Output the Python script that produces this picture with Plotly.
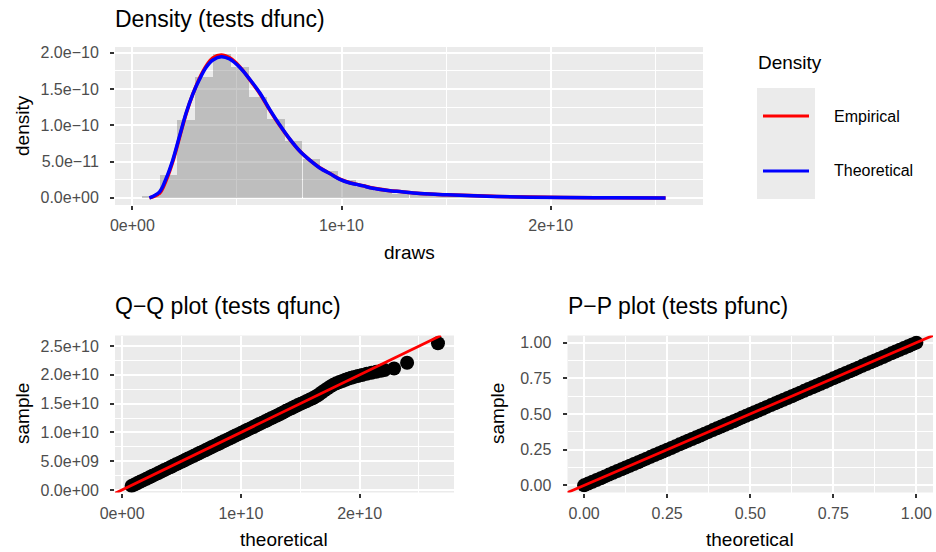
import plotly.graph_objects as go

W, H = 936, 552

# ---------------- data ----------------
# histogram (density scale), bin centres in units of 1e10
hist_centers_e10 = [0.088, 0.173, 0.258, 0.344, 0.429, 0.514, 0.600, 0.685, 0.770, 0.856,
                    0.941, 1.026, 1.112, 1.197, 1.282, 1.368, 1.453, 1.538, 1.624, 1.709,
                    1.794, 1.880, 1.965, 2.050, 2.136, 2.221, 2.306, 2.392, 2.477, 2.562]
hist_width_e10 = 0.0853
hist_density_e10m = [0.022, 0.31, 1.08, 1.66, 1.98, 1.81, 1.39, 1.09, 0.785, 0.53,
                     0.367, 0.24, 0.145, 0.09, 0.06, 0.04, 0.03, 0.02, 0.015, 0.01,
                     0.008, 0.005, 0.004, 0.003, 0.002, 0.002, 0.001, 0.001, 0.0, 0.001]

# density curves (x in 1e10, y in 1e-10)
curve_x_e10 = [0.0815, 0.129, 0.161, 0.193, 0.225, 0.257, 0.289, 0.321, 0.353, 0.385,
               0.425, 0.465, 0.513, 0.561, 0.609, 0.657, 0.704, 0.752, 0.800, 0.848,
               0.896, 0.944, 0.992, 1.040, 1.104, 1.136, 1.231, 1.264, 1.375, 1.503,
               1.743, 2.060, 2.300, 2.549]
theoretical_y_e10m = [0.0, 0.079, 0.265, 0.52, 0.846, 1.17, 1.43, 1.635, 1.80, 1.90,
                      1.946, 1.914, 1.80, 1.635, 1.45, 1.217, 1.008, 0.813, 0.646, 0.52,
                      0.413, 0.335, 0.255, 0.205, 0.165, 0.14, 0.098, 0.09, 0.06, 0.042,
                      0.019, 0.005, 0.002, 0.0]
empirical_y_e10m = [0.0, 0.06, 0.24, 0.50, 0.83, 1.16, 1.43, 1.65, 1.82, 1.93,
                    1.97, 1.93, 1.81, 1.63, 1.44, 1.21, 1.00, 0.81, 0.646, 0.52,
                    0.415, 0.337, 0.258, 0.208, 0.168, 0.143, 0.10, 0.092, 0.062, 0.043,
                    0.02, 0.006, 0.002, 0.0]

# Q-Q plot (units of 1e10)
qq_theoretical_e10 = [0.080, 0.105, 0.130, 0.155, 0.180, 0.205, 0.230, 0.255, 0.280, 0.305,
                      0.330, 0.355, 0.380, 0.405, 0.430, 0.455, 0.480, 0.505, 0.530, 0.555,
                      0.580, 0.605, 0.630, 0.655, 0.680, 0.705, 0.730, 0.755, 0.780, 0.805,
                      0.830, 0.855, 0.880, 0.905, 0.930, 0.955, 0.980, 1.005, 1.030, 1.055,
                      1.080, 1.105, 1.130, 1.155, 1.180, 1.205, 1.230, 1.255, 1.280, 1.305,
                      1.330, 1.355, 1.380, 1.405, 1.430, 1.455, 1.480, 1.505, 1.530, 1.555,
                      1.580, 1.605, 1.630, 1.655, 1.680, 1.705, 1.730, 1.755, 1.780, 1.805,
                      1.830, 1.855, 1.880, 1.905, 1.930, 1.955,
                      1.985, 2.020, 2.060, 2.100, 2.140, 2.180, 2.210, 2.290, 2.400, 2.660]
qq_sample_e10 = [0.070, 0.095, 0.120, 0.145, 0.170, 0.195, 0.220, 0.245, 0.270, 0.295,
                 0.320, 0.345, 0.370, 0.395, 0.420, 0.445, 0.470, 0.495, 0.520, 0.545,
                 0.570, 0.595, 0.620, 0.645, 0.670, 0.695, 0.720, 0.745, 0.770, 0.795,
                 0.820, 0.845, 0.870, 0.895, 0.920, 0.945, 0.970, 0.995, 1.020, 1.045,
                 1.070, 1.095, 1.120, 1.145, 1.170, 1.195, 1.220, 1.245, 1.270, 1.295,
                 1.320, 1.347, 1.375, 1.400, 1.425, 1.450, 1.475, 1.500, 1.522, 1.545,
                 1.570, 1.595, 1.625, 1.655, 1.695, 1.730, 1.765, 1.800, 1.830, 1.855,
                 1.875, 1.895, 1.915, 1.935, 1.950, 1.965,
                 1.980, 1.997, 2.020, 2.038, 2.054, 2.070, 2.083, 2.110, 2.210, 2.550]

# P-P plot
pp_theoretical = [0.0000, 0.0125, 0.0250, 0.0375, 0.0500, 0.0625, 0.0750, 0.0875, 0.1000, 0.1125,
                  0.1250, 0.1375, 0.1500, 0.1625, 0.1750, 0.1875, 0.2000, 0.2125, 0.2250, 0.2375,
                  0.2500, 0.2625, 0.2750, 0.2875, 0.3000, 0.3125, 0.3250, 0.3375, 0.3500, 0.3625,
                  0.3750, 0.3875, 0.4000, 0.4125, 0.4250, 0.4375, 0.4500, 0.4625, 0.4750, 0.4875,
                  0.5000, 0.5125, 0.5250, 0.5375, 0.5500, 0.5625, 0.5750, 0.5875, 0.6000, 0.6125,
                  0.6250, 0.6375, 0.6500, 0.6625, 0.6750, 0.6875, 0.7000, 0.7125, 0.7250, 0.7375,
                  0.7500, 0.7625, 0.7750, 0.7875, 0.8000, 0.8125, 0.8250, 0.8375, 0.8500, 0.8625,
                  0.8750, 0.8875, 0.9000, 0.9125, 0.9250, 0.9375, 0.9500, 0.9625, 0.9750, 0.9875,
                  1.0000]
pp_sample = [0.0000, 0.0127, 0.0253, 0.0378, 0.0503, 0.0628, 0.0753, 0.0878, 0.1002, 0.1127,
             0.1251, 0.1376, 0.1500, 0.1624, 0.1749, 0.1873, 0.1998, 0.2123, 0.2248, 0.2373,
             0.2498, 0.2622, 0.2747, 0.2872, 0.2997, 0.3122, 0.3247, 0.3372, 0.3497, 0.3622,
             0.3747, 0.3872, 0.3997, 0.4122, 0.4247, 0.4372, 0.4497, 0.4622, 0.4747, 0.4872,
             0.4997, 0.5122, 0.5247, 0.5372, 0.5497, 0.5622, 0.5747, 0.5872, 0.5997, 0.6122,
             0.6247, 0.6372, 0.6497, 0.6622, 0.6747, 0.6872, 0.6997, 0.7122, 0.7247, 0.7372,
             0.7497, 0.7622, 0.7747, 0.7872, 0.7998, 0.8123, 0.8248, 0.8373, 0.8498, 0.8623,
             0.8748, 0.8873, 0.8998, 0.9123, 0.9249, 0.9374, 0.9499, 0.9624, 0.9750, 0.9875,
             1.0000]

# tick labels
top_x_ticks = [0, 1e10, 2e10]
top_x_labels = ["0e+00", "1e+10", "2e+10"]
top_y_ticks = [0, 0.5e-10, 1.0e-10, 1.5e-10, 2.0e-10]
top_y_labels = ["0.0e+00", "5.0e\u221211", "1.0e\u221210", "1.5e\u221210", "2.0e\u221210"]
qq_x_ticks = [0, 1e10, 2e10]
qq_x_labels = ["0e+00", "1e+10", "2e+10"]
qq_y_ticks = [0, 0.5e10, 1.0e10, 1.5e10, 2.0e10, 2.5e10]
qq_y_labels = ["0.0e+00", "5.0e+09", "1.0e+10", "1.5e+10", "2.0e+10", "2.5e+10"]
pp_ticks = [0, 0.25, 0.5, 0.75, 1.0]
pp_labels = ["0.00", "0.25", "0.50", "0.75", "1.00"]

# ---------------- helpers ----------------
def px(x):
    return x / W

def py(y):
    return 1 - y / H

FONT = "Liberation Sans, Arial, sans-serif"
BG = "#EBEBEB"

fig = go.Figure()

hx = [c * 1e10 for c in hist_centers_e10]
hy = [v * 1e-10 for v in hist_density_e10m]
fig.add_trace(go.Bar(x=hx, y=hy, width=hist_width_e10 * 1e10,
                     marker=dict(color="rgba(128,128,128,0.42)", line=dict(width=0)),
                     xaxis="x", yaxis="y", showlegend=False, hoverinfo="skip"))

cx = [v * 1e10 for v in curve_x_e10]
fig.add_trace(go.Scatter(x=cx, y=[v * 1e-10 for v in empirical_y_e10m], mode="lines",
                         line=dict(color="#FF0000", width=3.5, shape="spline"),
                         name="Empirical", xaxis="x", yaxis="y", showlegend=False))
fig.add_trace(go.Scatter(x=cx, y=[v * 1e-10 for v in theoretical_y_e10m], mode="lines",
                         line=dict(color="#0000FF", width=3.5, shape="spline"),
                         name="Theoretical", xaxis="x", yaxis="y", showlegend=False))

# Q-Q
qqx = [v * 1e10 for v in qq_theoretical_e10]
qqy = [v * 1e10 for v in qq_sample_e10]
fig.add_trace(go.Scatter(x=qqx, y=qqy, mode="markers",
                         marker=dict(color="black", size=14, line=dict(width=0)),
                         xaxis="x2", yaxis="y2", showlegend=False))
qq_xr = [-0.06e10, 2.795e10]
qq_yr = [-0.045e10, 2.685e10]
fig.add_trace(go.Scatter(x=[qq_xr[0], qq_yr[1]], y=[qq_xr[0], qq_yr[1]], mode="lines",
                         line=dict(color="#FF0000", width=2.8),
                         xaxis="x2", yaxis="y2", showlegend=False))

# P-P
fig.add_trace(go.Scatter(x=pp_theoretical, y=pp_sample, mode="markers",
                         marker=dict(color="black", size=14, line=dict(width=0)),
                         xaxis="x3", yaxis="y3", showlegend=False))
fig.add_trace(go.Scatter(x=[-0.06, 1.06], y=[-0.06, 1.06], mode="lines",
                         line=dict(color="#FF0000", width=2.8),
                         xaxis="x3", yaxis="y3", showlegend=False))

def axis(domain, rng, tickvals, ticktext, minor_dtick, anchor, standoff=0):
    return dict(domain=domain, range=rng, tickmode="array", tickvals=tickvals,
                ticktext=ticktext, showgrid=True, gridcolor="white", gridwidth=2,
                zeroline=False, showline=False, ticks="outside", ticklen=4,
                tickwidth=1.5, tickcolor="#333333", automargin=False,
                ticklabelstandoff=standoff,
                tickfont=dict(family=FONT, size=16, color="#4D4D4D"),
                minor=dict(tickmode="linear", tick0=0, dtick=minor_dtick, showgrid=True,
                           gridcolor="white", gridwidth=1, ticks=""),
                anchor=anchor, fixedrange=True)

top_xd = [px(115), px(703)]
top_yd = [py(205), py(47)]
qq_xd = [px(115), px(454)]
bot_yd = [py(492.5), py(335.5)]
pp_xd = [px(567.5), px(933)]

fig.update_layout(
    template="none",
    width=W, height=H, margin=dict(l=0, r=0, t=0, b=0, pad=0, autoexpand=False),
    paper_bgcolor="white", plot_bgcolor=BG, bargap=0, showlegend=False,
    font=dict(family=FONT, color="black"),
    xaxis=axis(top_xd, [-0.083e10, 2.728e10], top_x_ticks, top_x_labels, 0.5e10, "y", 2),
    yaxis=axis(top_yd, [-0.098e-10, 2.08e-10], top_y_ticks, top_y_labels, 0.25e-10, "x", 8),
    xaxis2=axis(qq_xd, qq_xr, qq_x_ticks, qq_x_labels, 0.5e10, "y2", 2),
    yaxis2=axis(bot_yd, qq_yr, qq_y_ticks, qq_y_labels, 0.25e10, "x2", 8),
    xaxis3=axis(pp_xd, [-0.05, 1.05], pp_ticks, pp_labels, 0.125, "y3", 2),
    yaxis3=axis(bot_yd, [-0.05, 1.05], pp_ticks, pp_labels, 0.125, "x3", 8),
)

ann = []
def text(x, y, s, size, xanchor="left", angle=0, color="black"):
    ann.append(dict(x=px(x), y=py(y), xref="paper", yref="paper", text=s,
                    showarrow=False, xanchor=xanchor, yanchor="middle",
                    textangle=angle, font=dict(family=FONT, size=size, color=color)))

text(113, 19, "Density (tests dfunc)", 23)
text(113, 306, "Q\u2212Q plot (tests qfunc)", 23)
text(566, 306, "P\u2212P plot (tests pfunc)", 23)
text(409, 252, "draws", 19, xanchor="center")
text(284, 539, "theoretical", 19, xanchor="center")
text(750, 539, "theoretical", 19, xanchor="center")
text(22, 126, "density", 19, xanchor="center", angle=-90)
text(22, 414, "sample", 19, xanchor="center", angle=-90)
text(497, 414, "sample", 19, xanchor="center", angle=-90)

# legend (drawn in ggplot style)
text(756, 62, "Density", 19)
text(832, 116, "Empirical", 16)
text(832, 171, "Theoretical", 16)
fig.update_layout(annotations=ann)

shapes = [
    dict(type="rect", xref="paper", yref="paper", x0=px(757), x1=px(815), y0=py(199), y1=py(88),
         fillcolor=BG, line=dict(width=0), layer="below"),
    dict(type="line", xref="paper", yref="paper", x0=px(763), x1=px(809), y0=py(116), y1=py(116),
         line=dict(color="#FF0000", width=3)),
    dict(type="line", xref="paper", yref="paper", x0=px(763), x1=px(809), y0=py(171), y1=py(171),
         line=dict(color="#0000FF", width=3)),
]
fig.update_layout(shapes=shapes)

fig.write_html("out.html", config={"displayModeBar": False},
               post_script="document.body.style.margin='0';document.body.style.overflow='hidden';")
